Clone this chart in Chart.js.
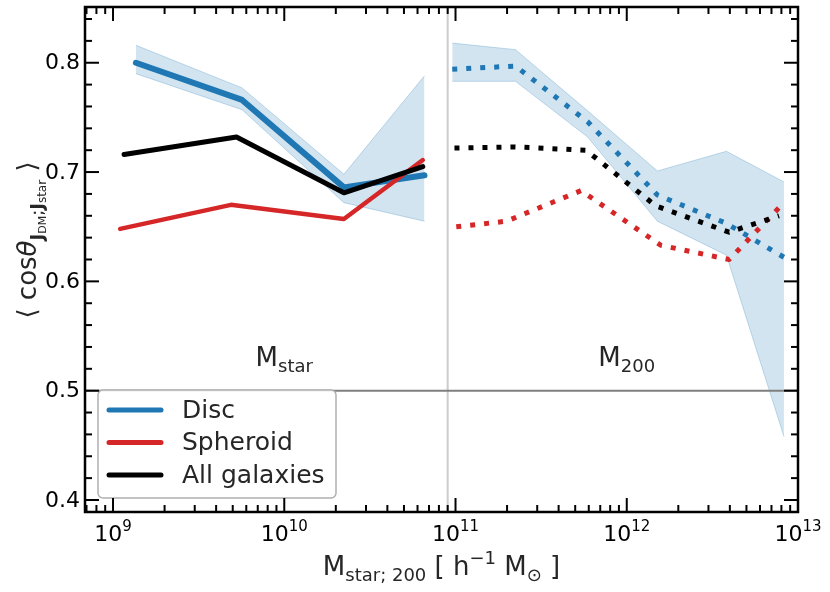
<!DOCTYPE html>
<html>
<head>
<meta charset="utf-8">
<script src="https://cdn.jsdelivr.net/npm/chart.js@4.4.1/dist/chart.umd.min.js"></script>
<style>
  html, body { margin: 0; padding: 0; background: #fff; }
  canvas { display: block; }
</style>
</head>
<body>
<canvas id="myChart" width="830" height="592"></canvas>
<script>
// left panel: x = M_star
const xDiscL = [1.36e9, 5.67e9, 2.23e10, 6.59e10];
const yDiscL = [0.800, 0.766, 0.686, 0.697];
const discHiL = [0.816, 0.777, 0.698, 0.788];
const discLoL = [0.790, 0.757, 0.672, 0.655];
const xSphL = [1.10e9, 4.88e9, 2.23e10, 6.44e10];
const ySphL = [0.648, 0.670, 0.657, 0.711];
const xAllL = [1.16e9, 5.26e9, 2.23e10, 6.44e10];
const yAllL = [0.716, 0.732, 0.681, 0.705];

// right panel: x = M_200
const xDiscR = [9.57e10, 2.24e11, 5.91e11, 1.51e12, 3.82e12, 8.28e12];
const yDiscR = [0.794, 0.797, 0.746, 0.679, 0.653, 0.622];
const discHiR = [0.818, 0.812, 0.756, 0.701, 0.719, 0.691];
const discLoR = [0.783, 0.783, 0.732, 0.655, 0.624, 0.458];
const xSphR = [1.01e11, 1.98e11, 5.41e11, 1.58e12, 3.96e12, 8.28e12];
const ySphR = [0.650, 0.655, 0.683, 0.633, 0.620, 0.672];
const xAllR = [9.86e10, 2.21e11, 5.78e11, 1.48e12, 3.96e12, 7.75e12];
const yAllR = [0.722, 0.723, 0.720, 0.669, 0.645, 0.660];

// axes
const xMin = 6.86e8, xMax = 1e13;
const yMin = 0.389, yMax = 0.851;
const xMajorExp = [9, 10, 11, 12, 13];
const xMinorMult = [2, 3, 4, 5, 6, 7, 8, 9];
const yMajor = [0.4, 0.5, 0.6, 0.7, 0.8];
const yMinorStep = 0.02;
const refLineY = 0.5;
const splitX = 9e10;
const panelLabels = [
  { x: 1e10, y: 0.523, main: 'M', sub: 'star' },
  { x: 1e12, y: 0.523, main: 'M', sub: '200' }
];
const legendItems = [
  { label: 'Disc', color: '#1f77b4' },
  { label: 'Spheroid', color: '#d62728' },
  { label: 'All galaxies', color: '#000000' }
];

const BLUE = '#1f77b4', RED = '#d62728', BLACK = '#000000';
const BAND_FILL = 'rgba(31, 119, 180, 0.2)';
const BAND_EDGE = 'rgba(31, 119, 180, 0.25)';
const FONT = '"DejaVu Sans", sans-serif';

function pts(xs, ys) {
  return xs.map((x, i) => ({ x: x, y: ys[i] }));
}

function solid(data, color, width, order) {
  return { data: data, borderColor: color, borderWidth: width, pointRadius: 0,
           fill: false, tension: 0, borderCapStyle: 'round', borderJoinStyle: 'round', order: order };
}
function dotted(data, color, order) {
  return { data: data, borderColor: color, borderWidth: 5, borderDash: [5, 9], pointRadius: 0,
           fill: false, tension: 0, borderCapStyle: 'butt', borderJoinStyle: 'round', order: order };
}

const datasets = [
  // 0,1 band left
  { data: pts(xDiscL, discHiL), borderColor: BAND_EDGE, borderWidth: 1, pointRadius: 0, fill: false, order: 20 },
  { data: pts(xDiscL, discLoL), borderColor: BAND_EDGE, borderWidth: 1, pointRadius: 0, fill: '-1', backgroundColor: BAND_FILL, order: 20 },
  // 2,3 band right
  { data: pts(xDiscR, discHiR), borderColor: BAND_EDGE, borderWidth: 1, pointRadius: 0, fill: false, order: 20 },
  { data: pts(xDiscR, discLoR), borderColor: BAND_EDGE, borderWidth: 1, pointRadius: 0, fill: '-1', backgroundColor: BAND_FILL, order: 20 },
  solid(pts(xDiscL, yDiscL), BLUE, 6, 5),
  solid(pts(xSphL, ySphL), RED, 4.5, 4),
  solid(pts(xAllL, yAllL), BLACK, 5, 3),
  dotted(pts(xDiscR, yDiscR), BLUE, 5),
  dotted(pts(xSphR, ySphR), RED, 4),
  dotted(pts(xAllR, yAllR), BLACK, 3)
];

function fontOf(r) {
  return (r.it ? 'italic ' : '') + (r.b ? 'bold ' : '') + r.s + 'px ' + FONT;
}
function runsWidth(ctx, runs) {
  let w = 0;
  runs.forEach(r => { ctx.font = fontOf(r); w += ctx.measureText(r.t).width; });
  return w;
}
function drawRuns(ctx, runs, x, y, align) {
  const total = runsWidth(ctx, runs);
  let cx = align === 'center' ? x - total / 2 : (align === 'right' ? x - total : x);
  ctx.textAlign = 'left';
  ctx.textBaseline = 'alphabetic';
  runs.forEach(r => {
    ctx.font = fontOf(r);
    ctx.fillText(r.t, cx, y + (r.dy || 0));
    cx += ctx.measureText(r.t).width;
  });
}

const deco = {
  id: 'deco',
  beforeDatasetsDraw(chart) {
    const { ctx, chartArea: a, scales: { x } } = chart;
    const px = x.getPixelForValue(splitX);
    ctx.save();
    ctx.strokeStyle = '#cccccc';
    ctx.lineWidth = 2;
    ctx.beginPath();
    ctx.moveTo(px, a.top);
    ctx.lineTo(px, a.bottom);
    ctx.stroke();
    ctx.restore();
  },
  afterDatasetsDraw(chart) {
    const { ctx, chartArea: a, scales: { x, y } } = chart;
    ctx.save();

    // reference line at 0.5
    const py = y.getPixelForValue(refLineY);
    ctx.strokeStyle = '#7f7f7f';
    ctx.lineWidth = 2;
    ctx.beginPath();
    ctx.moveTo(a.left, py);
    ctx.lineTo(a.right, py);
    ctx.stroke();

    // panel labels
    ctx.fillStyle = '#262626';
    panelLabels.forEach(p => {
      drawRuns(ctx, [{ t: p.main, s: 26 }, { t: p.sub, s: 18, dy: 6 }],
        x.getPixelForValue(p.x), y.getPixelForValue(p.y), 'center');
    });

    // legend
    const lx = 98, ly = 390, lw = 238, lh = 108;
    ctx.beginPath();
    ctx.roundRect(lx, ly, lw, lh, 5);
    ctx.fillStyle = 'rgba(255,255,255,0.9)';
    ctx.fill();
    ctx.strokeStyle = '#b0b0b0';
    ctx.lineWidth = 1.5;
    ctx.stroke();
    legendItems.forEach((it, i) => {
      const yy = 410 + i * 32.5;
      ctx.strokeStyle = it.color;
      ctx.lineWidth = 5;
      ctx.lineCap = 'round';
      ctx.beginPath();
      ctx.moveTo(109, yy);
      ctx.lineTo(161, yy);
      ctx.stroke();
      ctx.fillStyle = '#262626';
      ctx.font = '25px ' + FONT;
      ctx.textAlign = 'left';
      ctx.textBaseline = 'middle';
      ctx.fillText(it.label, 182, yy + 1);
    });
    ctx.lineCap = 'butt';

    // frame
    ctx.strokeStyle = '#000';
    ctx.lineWidth = 2.5;
    ctx.strokeRect(a.left, a.top, a.right - a.left, a.bottom - a.top);

    // ticks
    ctx.lineWidth = 2;
    const tick = (x1, y1, x2, y2) => { ctx.beginPath(); ctx.moveTo(x1, y1); ctx.lineTo(x2, y2); ctx.stroke(); };
    for (let v = 0.38; v <= yMax; v += yMinorStep) {
      const vv = Math.round(v * 100) / 100;
      if (vv < yMin) continue;
      const p = y.getPixelForValue(vv);
      const major = yMajor.some(m => Math.abs(m - vv) < 1e-6);
      const len = major ? 14 : 7;
      tick(a.left, p, a.left + len, p);
      tick(a.right, p, a.right - len, p);
    }
    for (let e = 8; e <= 13; e++) {
      xMinorMult.forEach(m => {
        const v = m * Math.pow(10, e);
        if (v < xMin || v > xMax) return;
        const p = x.getPixelForValue(v);
        tick(p, a.bottom, p, a.bottom - 7);
        tick(p, a.top, p, a.top + 7);
      });
    }
    xMajorExp.forEach(e => {
      const p = x.getPixelForValue(Math.pow(10, e));
      tick(p, a.bottom, p, a.bottom - 14);
      tick(p, a.top, p, a.top + 14);
    });

    // tick labels
    ctx.fillStyle = '#000';
    yMajor.forEach(v => {
      ctx.font = '22px ' + FONT;
      ctx.textAlign = 'right';
      ctx.textBaseline = 'middle';
      ctx.fillText(v.toFixed(1), a.left - 5, y.getPixelForValue(v) + 1);
    });
    xMajorExp.forEach(e => {
      drawRuns(ctx, [{ t: '10', s: 22 }, { t: String(e), s: 15, dy: -10 }],
        x.getPixelForValue(Math.pow(10, e)), 541, 'center');
    });

    // axis titles
    ctx.fillStyle = '#262626';
    drawRuns(ctx, [
      { t: 'M', s: 26 }, { t: 'star; 200', s: 18, dy: 6 },
      { t: ' [ h', s: 26 }, { t: '\u22121', s: 18, dy: -11 },
      { t: ' M', s: 26 }, { t: '\u2299', s: 18, dy: 6 }, { t: ' ]', s: 26 }
    ], (a.left + a.right) / 2, 575, 'center');

    ctx.translate(36, 240);
    ctx.rotate(-Math.PI / 2);
    drawRuns(ctx, [
      { t: '\u27E8 cos', s: 26 }, { t: '\u03B8', s: 26, it: true },
      { t: 'J', s: 18, b: true, dy: 7 }, { t: 'DM', s: 11, dy: 10 },
      { t: ';', s: 18, dy: 7 },
      { t: 'J', s: 18, b: true, dy: 7 }, { t: 'star', s: 12, dy: 10 },
      { t: ' \u27E9', s: 26 }
    ], 0, 0, 'center');
    ctx.restore();
  }
};

const ctx = document.getElementById('myChart').getContext('2d');
new Chart(ctx, {
  type: 'line',
  data: { datasets: datasets },
  options: {
    responsive: false,
    animation: false,
    devicePixelRatio: 1,
    layout: { padding: { left: 0, top: 7, right: 32, bottom: 0 } },
    plugins: { legend: { display: false }, tooltip: { enabled: false } },
    scales: {
      x: {
        type: 'logarithmic', min: xMin, max: xMax,
        ticks: { display: false }, grid: { display: false }, border: { display: false },
        afterFit: s => { s.height = 80; }
      },
      y: {
        type: 'linear', min: yMin, max: yMax,
        ticks: { display: false }, grid: { display: false }, border: { display: false },
        afterFit: s => { s.width = 85; }
      }
    }
  },
  plugins: [deco]
});
</script>
</body>
</html>
